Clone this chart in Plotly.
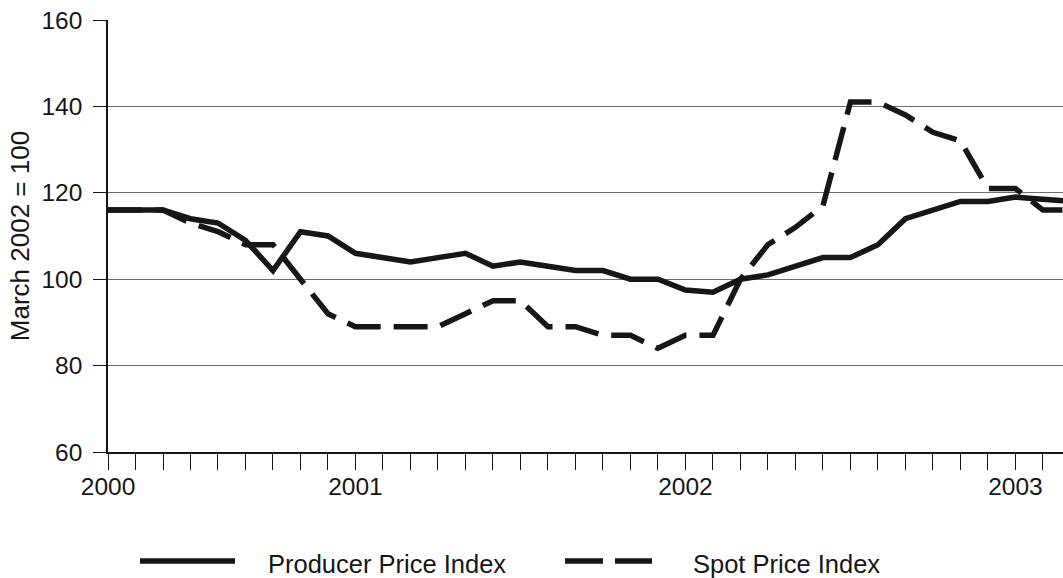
import plotly.graph_objects as go

months = [
    "Apr 2000", "May 2000", "Jun 2000", "Jul 2000", "Aug 2000", "Sep 2000",
    "Oct 2000", "Nov 2000", "Dec 2000",
    "Jan 2001", "Feb 2001", "Mar 2001", "Apr 2001", "May 2001", "Jun 2001",
    "Jul 2001", "Aug 2001", "Sep 2001", "Oct 2001", "Nov 2001", "Dec 2001",
    "Jan 2002", "Feb 2002", "Mar 2002", "Apr 2002", "May 2002", "Jun 2002",
    "Jul 2002", "Aug 2002", "Sep 2002", "Oct 2002", "Nov 2002", "Dec 2002",
    "Jan 2003", "Feb 2003", "Mar 2003",
]
producer_price_index = [
    116, 116, 116, 114, 113, 109, 102, 111, 110,
    106, 105, 104, 105, 106, 103, 104, 103, 102, 102, 100, 100,
    97.5, 97, 100, 101, 103, 105, 105, 108, 114, 116, 118, 118,
    119, 118.5, 118,
]
spot_price_index = [
    116, 116, 116, 113, 111, 108, 108, 100, 92,
    89, 89, 89, 89, 92, 95, 95, 89, 89, 87, 87, 84,
    87, 87, 100, 108, 112, 117, 141, 141, 138, 134, 132, 121,
    121, 116, 116,
]
year_ticks = {"Apr 2000": "2000", "Jan 2001": "2001", "Jan 2002": "2002", "Jan 2003": "2003"}
y_ticks = [60, 80, 100, 120, 140, 160]

FONT = "Liberation Sans, Arial, sans-serif"
INK = "#161616"

fig = go.Figure()
fig.add_trace(go.Scatter(
    x=months, y=producer_price_index, mode="lines", name="Producer Price Index",
    line=dict(color=INK, width=5.5), showlegend=False,
))
fig.add_trace(go.Scatter(
    x=months, y=spot_price_index, mode="lines", name="Spot Price Index",
    line=dict(color=INK, width=5.5, dash="34px,13px"), showlegend=False,
))

fig.update_layout(
    width=1063, height=578,
    margin=dict(l=108, r=0, t=20, b=126),
    paper_bgcolor="white", plot_bgcolor="white",
    font=dict(family=FONT, size=24.5, color=INK),
    xaxis=dict(
        type="category",
        range=[0, 34.73],
        tickmode="array",
        tickvals=months,
        ticktext=[year_ticks.get(m, "") for m in months],
        ticks="outside", ticklen=16, tickwidth=1, tickcolor=INK,
        showline=True, linecolor=INK, linewidth=1.5,
        showgrid=False, zeroline=False,
        tickfont=dict(size=24.5),
        ticklabelstandoff=-4,
    ),
    yaxis=dict(
        range=[60, 160],
        tickvals=y_ticks,
        ticks="outside", ticklen=13, tickwidth=1, tickcolor=INK,
        showline=True, linecolor=INK, linewidth=1.5,
        showgrid=True, gridcolor="#6e6e6e", gridwidth=1,
        zeroline=False,
        tickfont=dict(size=24.5),
        ticklabelstandoff=6,
        title=dict(text="March 2002 = 100", font=dict(size=26), standoff=4),
    ),
)

# manual legend (long line samples)
def px_x(p):
    return (p - 108) / 955.0

def px_y(p):
    return (452 - p) / 432.0

fig.add_shape(type="line", xref="paper", yref="paper",
              x0=px_x(140), x1=px_x(235), y0=px_y(561), y1=px_y(561),
              line=dict(color=INK, width=5.5))
fig.add_shape(type="line", xref="paper", yref="paper",
              x0=px_x(565), x1=px_x(652), y0=px_y(561), y1=px_y(561),
              line=dict(color=INK, width=5.5, dash="38px,12px"))
fig.add_annotation(xref="paper", yref="paper", x=px_x(266), y=px_y(564),
                   text="Producer Price Index", showarrow=False,
                   xanchor="left", yanchor="middle", font=dict(size=25.5))
fig.add_annotation(xref="paper", yref="paper", x=px_x(691), y=px_y(564),
                   text="Spot Price Index", showarrow=False,
                   xanchor="left", yanchor="middle", font=dict(size=25.5))

fig.write_html("out.html", config={"displayModeBar": False},
               post_script="document.body.style.margin='0';")
